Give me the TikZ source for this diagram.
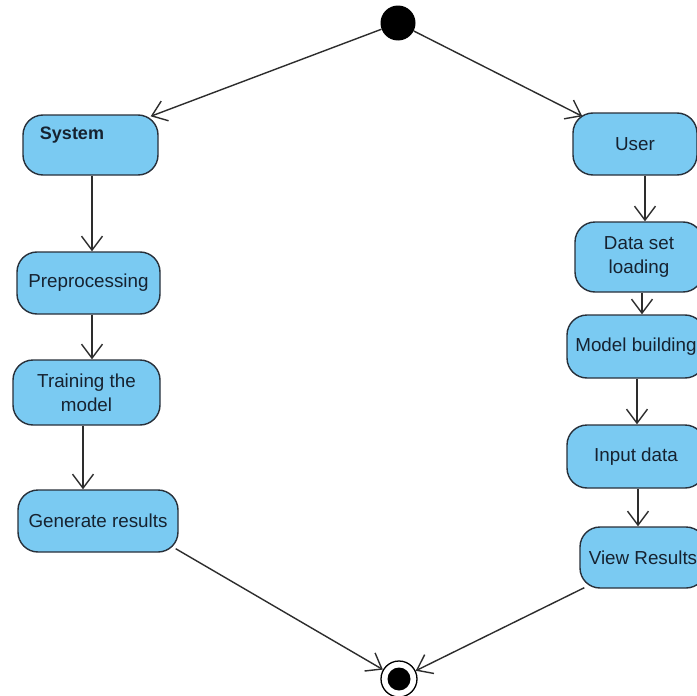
\documentclass[tikz,border=0pt]{standalone}
\usepackage{fontspec}
\setmainfont{Liberation Sans}
\usetikzlibrary{arrows.meta,calc}
\definecolor{actfill}{RGB}{122,202,242}
\definecolor{actline}{RGB}{40,48,58}
\definecolor{acttext}{RGB}{22,34,48}
\definecolor{flow}{RGB}{45,45,45}
\begin{document}
\begin{tikzpicture}[x=1pt,y=-1pt,
  act/.style={draw=actline, fill=actfill, line width=1.4pt, rounded corners=20pt,
    inner sep=0pt, font=\fontsize{18.8}{24}\selectfont, text=acttext, align=center},
  flowline/.style={draw=flow, line width=1.4pt,
    -{Straight Barb[length=14pt,width=21pt,line width=1.4pt]}},
  initstate/.style={circle, fill=black, minimum size=35pt, inner sep=0pt},
  finring/.style={circle, draw=black, line width=1.3pt, fill=white, minimum size=36pt, inner sep=0pt},
  findot/.style={circle, fill=black, minimum size=23pt, inner sep=0pt}]
\useasboundingbox (0,0) rectangle (697,696);
\clip (0,0) rectangle (697,696);
\fill[white] (0,0) rectangle (697,696);

% left column
\node[act, minimum width=135pt, minimum height=60pt] (sys) at (90.5,145) {};
\node[font=\bfseries\fontsize{18}{24}\selectfont, text=acttext] (sysl) at (72,135) {System};
\node[act, minimum width=143pt, minimum height=62pt] (pre) at (88.5,283) {Preprocessing};
\node[act, minimum width=147pt, minimum height=65pt] (train) at (86.5,392.5) {Training the\\model};
\node[act, minimum width=160pt, minimum height=62pt] (gen) at (98,521) {Generate results};

% right column
\node[act, minimum width=124pt, minimum height=62pt] (user) at (635,144) {User};
\node[act, minimum width=128pt, minimum height=70pt] (data) at (639,257) {Data set\\loading};
\node[act, minimum width=138pt, minimum height=63pt] (model) at (636,346.5) {Model building};
\node[act, minimum width=138pt, minimum height=63pt] (input) at (636,456.5) {Input data};
\node[act, minimum width=126pt, minimum height=61pt] (view) at (643,557.5) {View Results};

% start / end
\node[initstate] (init) at (398,23) {};
\node[finring] (fin) at (399,679) {};
\node[findot] (finc) at (fin) {};

% connectors
\draw[flowline] (init) -- ($(sys.north east)+(-8,2)$);
\draw[flowline] (init) -- ($(user.north west)+(10,4)$);

\coordinate (a1) at ($(sys.south)+(1.5,0)$);
\draw[flowline] (a1) -- (a1 |- pre.north);
\coordinate (a2) at ($(pre.south)+(3.5,0)$);
\draw[flowline] (a2) -- (a2 |- train.north);
\coordinate (a3) at ($(train.south)+(-3.5,0)$);
\draw[flowline] (a3) -- (a3 |- gen.north);

\coordinate (b1) at ($(user.south)+(10,0)$);
\draw[flowline] (b1) -- (b1 |- data.north);
\coordinate (b2) at ($(data.south)+(3,0)$);
\draw[flowline] (b2) -- (b2 |- model.north);
\coordinate (b3) at ($(model.south)+(1,0)$);
\draw[flowline] (b3) -- (b3 |- input.north);
\coordinate (b4) at ($(input.south)+(2,0)$);
\draw[flowline] (b4) -- (b4 |- view.north);

\draw[flowline] ($(gen.south east)+(-3,-4)$) -- (fin);
\draw[flowline] ($(view.south west)+(5,-1)$) -- (fin);
\end{tikzpicture}
\end{document}
